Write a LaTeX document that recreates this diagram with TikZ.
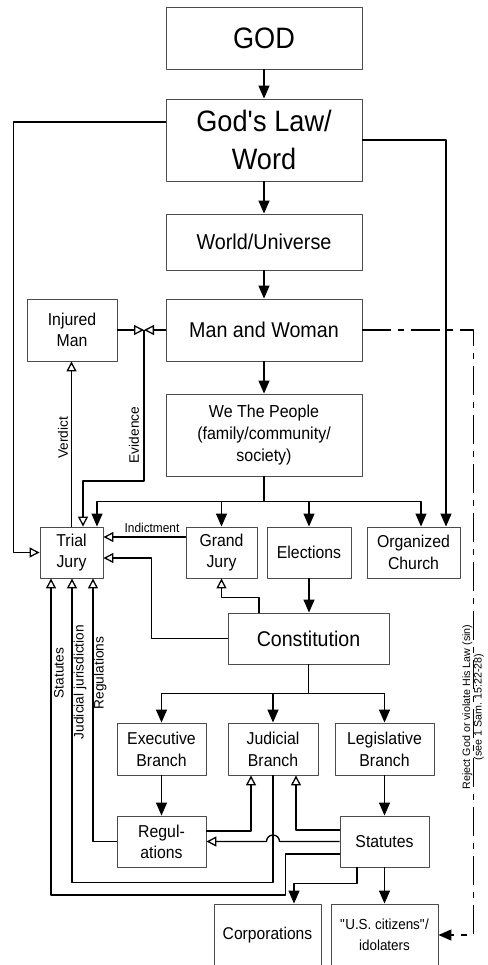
\documentclass[tikz,border=0pt]{standalone}
\usepackage{fontspec}
\setmainfont{Liberation Sans}[FakeStretch=0.92]
\newfontfamily\rotfont{Liberation Sans}
\usetikzlibrary{arrows.meta}
\newcommand\fsz[2]{\fontsize{#1}{#2}\selectfont}

\begin{document}
\begin{tikzpicture}[x=1pt, y=-1pt, line join=round, line width=1.3pt,
	box/.style={draw=black!70, line width=0.9pt, align=center, inner sep=1pt, font=\fsz{17.2}{21.7}},
	fillarr/.style={-{Triangle[length=13pt,width=11pt]}},
	openarr/.style={-{Triangle[length=10pt,width=10pt,fill=white]}},
	vlbl/.style={font=\rotfont\fsz{13.7}{16}, rotate=90, inner sep=0pt}]
	\useasboundingbox (0,0) rectangle (487,965);
	\path
	(264,38) node[box, minimum width=196, minimum height=62, font=\fsz{29.5}{36}] (god) {GOD}
	(264,140) node[box, minimum width=196, minimum height=82, font=\fsz{29.5}{38}] (law) {God\textquotesingle s Law/\\Word}
	(264,242) node[box, minimum width=196, minimum height=56, font=\fsz{21.5}{26}] (world) {World/Universe}
	(264,330) node[box, minimum width=196, minimum height=62, font=\fsz{21.4}{26}] (man) {Man and Woman}
	(72,330) node[box, minimum width=90, minimum height=62] (injured) {Injured\\Man}
	(264,435) node[box, minimum width=196, minimum height=82, font=\fsz{17.4}{22}] (people) {We The People\\(family/community/\\society)}
	(71.5,552.5) node[box, minimum width=63, minimum height=51] (trial) {Trial\\Jury}
	(221.5,552.5) node[box, minimum width=71, minimum height=51] (grand) {Grand\\Jury}
	(309,552.5) node[box, minimum width=84, minimum height=51] (elect) {Elections}
	(413.5,552.5) node[box, minimum width=93, minimum height=51] (church) {Organized\\Church}
	(308.5,638.5) node[box, minimum width=161, minimum height=51, font=\fsz{21.3}{26}] (const) {Constitution}
	(161.5,749) node[box, minimum width=89, minimum height=52] (exec) {Executive\\Branch}
	(273,749) node[box, minimum width=90, minimum height=52] (judic) {Judicial\\Branch}
	(384.5,749) node[box, minimum width=99, minimum height=52] (legis) {Legislative\\Branch}
	(161.5,841.5) node[box, minimum width=89, minimum height=51, font=\fsz{17.2}{20.7}] (regul) {Regul-\\ations}
	(384.5,841.5) node[box, minimum width=89, minimum height=51] (stat) {Statutes}
	(267.5,935) node[box, minimum width=107, minimum height=62, font=\fsz{17}{21}] (corp) {Corporations}
	(384.5,935) node[box, minimum width=107, minimum height=62, font=\fsz{14.6}{20.5}] (uscit) {\textquotedbl U.S. citizens\textquotedbl/\\idolaters}
	(144,330) coordinate (ev)
	;
	% down the middle
	\foreach \a/\b in {god/law, law/world, world/man, man/people, exec/regul, legis/stat, stat/uscit}
		{\draw[fillarr] (\a) -- (\b);}
	\draw[openarr] ([yshift=18pt]law.west) -| ([xshift=-26pt]trial.west) -- (trial.west);
	\draw[fillarr] (law.east) -| ([xshift=32.5pt]church.north);
	% injured man, evidence, verdict
	\draw[openarr] (injured) -- (ev);
	\draw[openarr] (man) -- (ev);
	\draw[openarr] (ev) -- ++(0,151) -| ([xshift=11.5pt]trial.north);
	\draw[openarr] (trial.north) -- (trial.north |- injured.south);
	\node[vlbl] (verdict) at (63,438) {Verdict};
	\node[vlbl] (evidence) at (134,435) {Evidence};
	% we the people
	\draw (people.south) -- ++(0,25) coordinate (bus);
	\foreach \t/\s in {trial/25.5, grand/0, elect/0, church/7.5}
		{\draw[fillarr] (bus) -| ([xshift=\s pt]\t.north);}
	\draw[openarr] ([yshift=15.5pt]grand.west) -- ([yshift=15.5pt]trial.east);
	\node[font=\fsz{12.9}{15}, inner sep=0pt] (indict) at (152,528) {Indictment};
	% constitution
	\draw[fillarr] (elect) -- (elect |- const.north);
	\draw[openarr] (const.west) -- ++(-76,0) |- ([yshift=-5.5pt]trial.east);
	\draw[openarr] ([xshift=-49.5pt]const.north) -- ++(0,-15) -| (grand.south);
	\draw (const.south) -- ++(0,29) coordinate (fork);
	\foreach \t in {exec, judic, legis}
		{\draw[fillarr] (fork) -| (\t.north);}
	% branches
	\draw[openarr] ([yshift=10.5pt]regul.east) -| ([xshift=-22pt]judic.south);
	\draw[openarr] ([yshift=11.5pt]stat.west) -| ([xshift=23pt]judic.south);
	\draw[openarr] (stat.west) -- ([xshift=6.5pt]judic.south |- stat.west) arc[start angle=0, end angle=180, radius=6.5pt] -- (regul.east);
	\draw[openarr] (judic.south) -- ++(0,107) -| ([xshift=0.5pt]trial.south);
	\draw[openarr] ([yshift=-12.5pt]stat.west) -- ++(-54,0) -- ++(0,41) -| ([xshift=-20.5pt]trial.south);
	\draw[openarr] (regul.west) -| ([xshift=21.5pt]trial.south);
	\node[vlbl] (statlbl) at (59,673) {Statutes};
	\node[vlbl] (jurlbl) at (80,682) {Judicial jurisdiction};
	\node[vlbl] (reglbl) at (100,673) {Regulations};
	\draw[fillarr] ([xshift=-27.5pt]stat.south) -- ++(0,16) -| ([xshift=26.5pt]corp.north);
	% sin
	\draw[fillarr, dash pattern=on 29pt off 7pt on 6pt off 7pt] (man.east) -- ++(111,0) |- (uscit.east);
	\node[font=\rotfont\fsz{10.7}{11.5}, rotate=90, align=center, inner sep=0pt] (sin) at (473,707) {Reject God or violate His Law (sin)\\(see 1 Sam.\ 15:22-28)};
\end{tikzpicture}
\end{document}
